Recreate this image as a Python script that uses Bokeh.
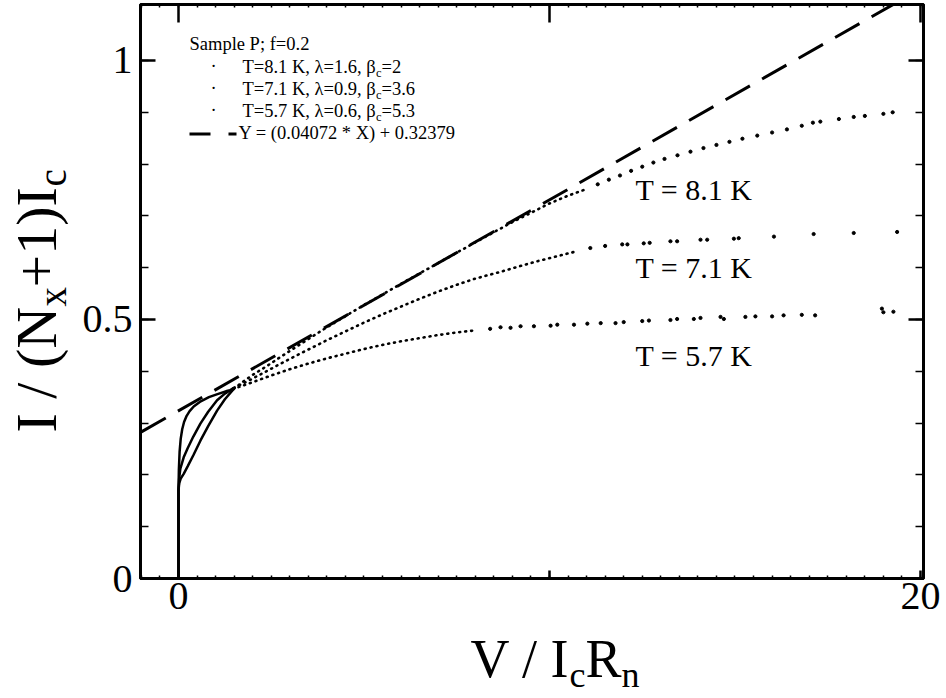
import math
from bokeh.plotting import figure
from bokeh.layouts import row, column
from bokeh.models import Range1d, LinearAxis, FixedTicker, Label, BoxAnnotation
from bokeh.embed import file_html
from bokeh.resources import INLINE

# ---------------- data ----------------
# T = 8.1 K : continuous knee, dense dotted part, sparse dots
v81_knee = [0.0, 0.0, 0.02, 0.06, 0.14, 0.25, 0.40, 0.59, 0.80, 1.04, 1.25, 1.49]
i81_knee = [0.0, 0.170, 0.184, 0.193, 0.202, 0.217, 0.238, 0.266, 0.294, 0.324, 0.346, 0.366]
v81_dense = [1.49, 1.7, 2.0, 2.4, 2.8, 3.3, 4.0, 5.0, 6.0, 7.0, 8.0, 9.0, 10.0, 10.5, 11.0]
i81_dense = [0.366, 0.378, 0.393, 0.411, 0.430, 0.453, 0.485, 0.528, 0.569, 0.609, 0.649, 0.688, 0.724, 0.739, 0.752]
v81_dots = [11.3, 11.6, 11.9, 12.2, 12.5, 12.8, 13.1, 13.45, 13.8, 14.15, 14.5, 14.85, 15.2, 15.6,
            16.0, 16.4, 16.8, 17.1, 17.3, 17.8, 18.2, 18.5, 19.0, 19.25]
i81_dots = [0.761, 0.770, 0.778, 0.787, 0.795, 0.803, 0.810, 0.817, 0.824, 0.831, 0.837, 0.843, 0.849, 0.855,
            0.861, 0.867, 0.874, 0.880, 0.882, 0.887, 0.891, 0.893, 0.897, 0.900]

# T = 7.1 K
v71_knee = [0.0, 0.0, 0.02, 0.05, 0.14, 0.25, 0.40, 0.59, 0.80, 1.04, 1.25, 1.49]
i71_knee = [0.0, 0.170, 0.195, 0.212, 0.234, 0.252, 0.274, 0.299, 0.322, 0.344, 0.357, 0.368]
v71_dense = [1.49, 1.7, 2.0, 2.5, 3.0, 3.5, 4.0, 4.5, 5.0, 5.5, 6.0, 6.5, 7.0, 7.5, 8.0, 8.68, 9.2, 9.7, 10.2, 10.75]
i71_dense = [0.368, 0.375, 0.386, 0.405, 0.424, 0.442, 0.460, 0.477, 0.494, 0.510, 0.525, 0.540, 0.554, 0.567,
             0.579, 0.592, 0.603, 0.613, 0.622, 0.632]
v71_dots = [11.1, 11.5, 11.96, 12.1, 12.54, 12.7, 13.26, 13.44, 14.07, 14.25, 14.97, 15.1, 16.05, 17.12, 18.2, 19.37]
i71_dots = [0.638, 0.642, 0.645, 0.645, 0.647, 0.648, 0.651, 0.651, 0.654, 0.654, 0.656, 0.657, 0.660, 0.665, 0.667, 0.669]

# T = 5.7 K
v57_knee = [0.0, 0.0, 0.01, 0.03, 0.06, 0.10, 0.15, 0.22, 0.30, 0.41, 0.60, 0.82, 1.05, 1.31]
i57_knee = [0.0, 0.170, 0.210, 0.245, 0.270, 0.288, 0.302, 0.314, 0.323, 0.332, 0.342, 0.350, 0.356, 0.362]
v57_dense = [1.31, 1.6, 2.0, 2.5, 3.0, 3.5, 4.0, 4.5, 5.0, 5.5, 6.0, 6.5, 7.0, 7.5, 8.0]
i57_dense = [0.362, 0.369, 0.379, 0.392, 0.404, 0.415, 0.425, 0.434, 0.443, 0.451, 0.458, 0.464, 0.470, 0.475, 0.479]
v57_dots = [8.4, 8.68, 8.95, 9.22, 9.58, 10.03, 10.21, 10.66, 11.02, 11.38, 11.78, 12.0, 12.5, 12.68, 13.26,
            13.44, 13.89, 14.07, 14.61, 14.7, 15.28, 15.55, 16.0, 16.31, 16.8, 17.16, 18.96, 19.0, 19.27]
i57_dots = [0.482, 0.485, 0.484, 0.487, 0.487, 0.488, 0.490, 0.490, 0.492, 0.493, 0.493, 0.495, 0.497, 0.498, 0.499,
            0.501, 0.501, 0.503, 0.505, 0.501, 0.505, 0.506, 0.506, 0.508, 0.509, 0.508, 0.521, 0.514, 0.515]

# linear fit  Y = (0.04072 * X) + 0.32379
fit_v = [-1.0, 20.0]
fit_i = [0.28307, 1.13819]

# ticks and texts
x_major = [0, 10, 20]
x_tick_text = {0: "0", 10: "", 20: "20"}
y_major = [0, 0.5, 1.0]
y_tick_text = {0: "0", 0.5: "0.5", 1: "1"}
legend_title = "Sample P; f=0.2"
legend_rows = ["T=8.1 K, λ=1.6, β", "T=7.1 K, λ=0.9, β", "T=5.7 K, λ=0.6, β"]
legend_tails = ["=2", "=3.6", "=5.3"]
fit_text = "Y = (0.04072 * X) + 0.32379"
curve_labels = ["T = 8.1 K", "T = 7.1 K", "T = 5.7 K"]

SERIF = "Liberation Serif"
K_BASE = 0.33   # measured shift between the label anchor and the drawn baseline (in em)

# page layout (screen px): left strip 0..75, main plot 75..944 x 0..628, bottom strip 628..696
L_W, M_W, M_H, TOTAL_H = 75, 869, 628, 696
B_H = TOTAL_H - M_H

# ---------------- main figure ----------------
p = figure(width=M_W, height=M_H, x_range=Range1d(-1.0243, 20.081), y_range=Range1d(0, 1.1081),
           output_backend="svg", toolbar_location=None, frame_align=False,
           min_border_left=65, min_border_right=21, min_border_top=4, min_border_bottom=50)
p.xgrid.visible = False
p.ygrid.visible = False
p.outline_line_color = "black"
p.outline_line_width = 3
p.background_fill_color = "white"
p.border_fill_color = "white"

x_minor = [k * 0.5 for k in range(-2, 41)]
y_minor = [k * 0.1 for k in range(0, 11)]


def style_axis(ax, tick_in, minor_in):
    ax.major_tick_in = tick_in
    ax.major_tick_out = 0
    ax.minor_tick_in = minor_in
    ax.minor_tick_out = 0
    ax.axis_line_width = 3
    ax.axis_line_color = "black"
    ax.major_tick_line_width = 2.5
    ax.minor_tick_line_width = 1.5
    ax.major_tick_line_color = "black"
    ax.minor_tick_line_color = "black"
    ax.major_label_text_font = SERIF
    ax.major_label_text_color = "black"


def blank_labels(ax, ticks):
    ax.major_label_overrides = {t: "" for t in ticks}
    ax.major_label_text_font_size = "1px"
    ax.major_label_standoff = 0


xb = p.xaxis[0]
xb.ticker = FixedTicker(ticks=x_major, minor_ticks=x_minor)
style_axis(xb, 8, 3)
xb.major_label_overrides = x_tick_text
xb.major_label_text_font_size = "40px"
xb.major_label_standoff = 4

yl = p.yaxis[0]
yl.ticker = FixedTicker(ticks=y_major, minor_ticks=y_minor)
style_axis(yl, 15, 8)
yl.major_label_overrides = y_tick_text
yl.major_label_text_font_size = "40px"
yl.major_label_standoff = 8

xt = LinearAxis(ticker=FixedTicker(ticks=x_major, minor_ticks=x_minor))
style_axis(xt, 18, 3)
blank_labels(xt, x_major)
p.add_layout(xt, "above")

yr = LinearAxis(ticker=FixedTicker(ticks=y_major, minor_ticks=y_minor))
style_axis(yr, 15, 8)
blank_labels(yr, y_major)
p.add_layout(yr, "right")

# ---------------- curves ----------------
p.line(fit_v, fit_i, line_color="black", line_width=3, line_dash="28 14")
for kv, ki, dv, di, sv, si in [(v81_knee, i81_knee, v81_dense, i81_dense, v81_dots, i81_dots),
                               (v71_knee, i71_knee, v71_dense, i71_dense, v71_dots, i71_dots),
                               (v57_knee, i57_knee, v57_dense, i57_dense, v57_dots, i57_dots)]:
    p.line(kv, ki, line_color="black", line_width=2.5)
    p.line(dv, di, line_color="black", line_width=2.6, line_dash="1 5", line_cap="round")
    p.scatter(sv, si, size=3.2, color="black")


# ---------------- texts inside the plot ----------------
def px2x(px):
    return (px - 178) / 37.1


def py2y(py):
    return (578 - py) / 518


def lab(text, px, py, size, xo=0, yo=0, align="left"):
    # (px, py): wanted baseline position in screen pixels
    p.add_layout(Label(x=px2x(px), y=py2y(py - K_BASE * size), text=text, text_font=SERIF,
                       text_font_size=f"{size}px", x_offset=xo, y_offset=yo, text_align=align,
                       text_baseline="alphabetic", text_color="black"))


lab(legend_title, 189, 50, 18.5)
for k, (rw, tail) in enumerate(zip(legend_rows, legend_tails)):
    base = 72.7 + 21.8 * k
    lab("·", 213, base - 1, 18.5, align="center")
    lab(rw, 242, base, 18.5)
    lab("c", 242, base + 4, 12.5, xo=133.5)
    lab(tail, 242, base, 18.5, xo=139)
p.add_layout(BoxAnnotation(left=px2x(189), right=px2x(210), bottom=py2y(135), top=py2y(132),
                           fill_color="black", fill_alpha=1, line_color=None))
p.add_layout(BoxAnnotation(left=px2x(228), right=px2x(236), bottom=py2y(135), top=py2y(132),
                           fill_color="black", fill_alpha=1, line_color=None))
lab(fit_text, 238, 138.3, 18.5)

for t, base in zip(curve_labels, [199, 277, 365]):
    lab(t, 635, base, 30)


# ---------------- text strips (left: y title, bottom: x title) ----------------
def strip(w, h):
    s = figure(width=w, height=h, x_range=Range1d(0, w), y_range=Range1d(0, h),
               output_backend="svg", toolbar_location=None, min_border=0, frame_align=False,
               x_axis_type=None, y_axis_type=None)
    s.xgrid.visible = False
    s.ygrid.visible = False
    s.outline_line_color = None
    s.background_fill_color = "white"
    s.border_fill_color = "white"
    return s


def slab(s, text, x, y, size, angle=0):
    # (x, y): wanted baseline anchor in strip pixels (y upwards)
    if angle == 0:
        y = y + K_BASE * size
    else:
        x = x - K_BASE * size
    s.add_layout(Label(x=x, y=y, text=text, text_font=SERIF, text_font_size=f"{size}px",
                       angle=angle, text_align="left", text_baseline="alphabetic", text_color="black"))


# bottom strip: screen x = 75 + x, screen y = 696 - y
FX, FXs = 54, 36
b = strip(M_W, B_H)
x0, y0 = 470 - 75, TOTAL_H - 676
slab(b, "V / I", x0, y0, FX)
slab(b, "c", x0 + 99, y0 - 10, FXs)
slab(b, "R", x0 + 115, y0, FX)
slab(b, "n", x0 + 151, y0 - 10, FXs)

# left strip: screen x = x, screen y = 696 - y  (rotated, reads upwards)
FY, FYs = 58, 39
lft = strip(L_W, TOTAL_H)
A = math.pi / 2
lx, ly = 55, TOTAL_H - 432
slab(lft, "I / (N", lx, ly, FY, angle=A)
slab(lft, "x", lx + 10, ly + 126, FYs, angle=A)
slab(lft, "+1)I", lx, ly + 145, FY, angle=A)
slab(lft, "c", lx + 10, ly + 246, FYs, angle=A)

layout = row(lft, column(p, b, spacing=0), spacing=0)

open("out.html", "w").write(file_html(layout, INLINE))
